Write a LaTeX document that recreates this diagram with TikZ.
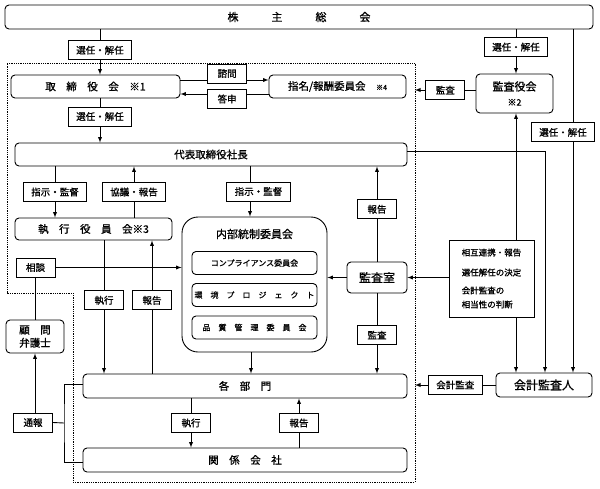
\documentclass[tikz,border=0pt]{standalone}
\usepackage{fontspec}
\setmainfont{Noto Sans CJK JP}[FakeBold=1]
\usetikzlibrary{
  positioning,
  arrows
}
\tikzset{
  >=latex,
  box/.style={draw, line width=0.9pt, rounded corners=4pt, fill=white, inner sep=0pt, font=\fontsize{10.5}{12}\selectfont},
  subbox/.style={box, minimum width=125, minimum height=23, font=\fontsize{8}{9}\selectfont},
  lbl/.style={draw, line width=0.9pt, fill=white, inner xsep=8pt, inner ysep=0pt, minimum width=39, minimum height=19, font=\fontsize{9.5}{11}\selectfont},
  link/.style={line width=0.9pt},
  frame/.style={densely dotted, line width=0.8pt}
}

\begin{document}
\begin{tikzpicture}[x=1pt, y=-1pt]
    \useasboundingbox (0,0) rectangle (600,488);
    % company border
    \draw[frame] (7,63) -- (415,63) -- (415,482) -- (73,482) -- (73,293) -- (7,293) -- cycle;
    \coordinate (edgeA) at (415,90);
    \coordinate (edgeB) at (415,385);
    \coordinate (fork) at (64,423);

    \node[box, minimum width=588, minimum height=24, font=\fontsize{11}{13}\selectfont] (kabu) at (299,17) {株　　　主　　　総　　　会};
    \node[box, minimum width=169, minimum height=23] (tori) at (95.5,86.5) {取　締　役　会　※1};
    \node[box, minimum width=137, minimum height=23] (shimei) at (337.5,86.5) {指名/報酬委員会　{\fontsize{7}{8}\selectfont ※4}};
    \node[box, minimum width=77, minimum height=39, align=center, font=\fontsize{11}{15}\selectfont] (kansayaku) at (514.5,93.5) {監査役会\\{\fontsize{9}{10}\selectfont ※2}};
    \node[box, minimum width=392, minimum height=23] (daihyo) at (211,154.5) {代表取締役社長};
    \node[box, minimum width=157, minimum height=22] (shikko) at (93.5,229) {執　行　役　員　会※3};
    \node[box, rounded corners=16pt, minimum width=145, minimum height=135] (naibu) at (254.5,284.5) {};
    \node[font=\fontsize{11}{13}\selectfont] (naibuT) at (254.5,234) {内部統制委員会};
    \node[subbox] (comp) at (254.5,263) {コンプライアンス委員会};
    \node[subbox] (kankyo) at (254.5,295) {環　境　プ　ロ　ジ　ェ　ク　ト};
    \node[subbox] (hinshitsu) at (254.5,327.5) {品　質　管　理　委　員　会};
    \node[box, minimum width=60, minimum height=31, font=\fontsize{12}{14}\selectfont] (kansashitsu) at (377,277.5) {監査室};
    \node[lbl] (soudan) at (35.5,267.5) {相談};
    \node[box, minimum width=58, minimum height=33, align=center, font=\fontsize{10.5}{13}\selectfont] (komon) at (35,336.5) {顧　問\\弁護士};
    \node[box, minimum width=324, minimum height=24] (kakubu) at (245,386) {各　部　門};
    \node[box, minimum width=324, minimum height=24] (kankei) at (245,460) {関　係　会　社};
    \node[lbl] (tsuho) at (33,422.5) {通報};
    \node[box, minimum width=96, minimum height=24, font=\fontsize{12}{14}\selectfont] (kaikei) at (544,385) {会計監査人};

    \draw[link, <->] (kansayaku.south -| 516,0) -- (kaikei.north -| 516,0);
    \node[draw, line width=0.9pt, fill=white, minimum width=85, minimum height=77, inner xsep=8pt, align=left, font=\fontsize{8.5}{14}\selectfont] (sogo) at (491.5,278.5) {相互連携・報告\\[6pt]選任解任の決定\\[4pt]会計監査の\\相当性の判断};

    \draw[link, ->] (kabu.south -| 100,0) -- node[lbl, pos=0.46] {選任・解任} (tori.north -| 100,0);
    \draw[link, ->] (tori.east |- 0,80) -- node[lbl, pos=0.53, yshift=6.5pt] {諮問} (shimei.west |- 0,80);
    \draw[link, ->] (shimei.west |- 0,94) -- node[lbl, pos=0.47, yshift=-5pt] {答申} (tori.east |- 0,94);
    \draw[link, ->] (kansayaku.west |- edgeA) -- node[lbl] {監査} (edgeA);
    \draw[link, ->] (kabu.south -| 516,0) -- node[lbl, pos=0.4] {選任・解任} (kansayaku.north -| 516,0);
    \draw[link, ->] (kabu.south -| 573,0) -- node[lbl, pos=0.3, xshift=-10pt] {選任・解任} (kaikei.north -| 573,0);
    \draw[link, ->] (tori.south -| 100,0) -- node[lbl, pos=0.41] {選任・解任} (daihyo.north -| 100,0);
    \draw[link, ->] (daihyo.east |- 0,151) -| (kaikei.north -| 545,0);
    \draw[link, ->] (daihyo.south -| 55,0) -- node[lbl] {指示・監督} (shikko.north -| 55,0);
    \draw[link, ->] (shikko.north -| 134,0) -- node[lbl] {協議・報告} (daihyo.south -| 134,0);
    \draw[link, ->] (daihyo.south -| 250,0) -- node[lbl, xshift=8.5pt] {指示・監督} (naibu.north -| 250,0);
    \draw[link, ->] (kansashitsu.north) -- node[lbl, pos=0.55] {報告} (daihyo.south -| kansashitsu.north);
    \draw[link, ->] (kansashitsu.west) -- (naibu.east |- kansashitsu.west);
    \draw[link, ->] (sogo.west |- kansashitsu.east) -- (kansashitsu.east);
    \draw[link, ->] (kansashitsu.south) -- node[lbl, pos=0.52] {監査} (kakubu.north -| kansashitsu.south);
    \draw[link, ->] (naibu.south -| 251,0) -- (kakubu.north -| 251,0);
    \draw[link, ->] (soudan.east) -- (naibu.west |- soudan.east);
    \draw[link] (soudan.south -| komon.north) -- (komon.north);
    \draw[link, ->] (shikko.south -| 104,0) -- node[lbl, pos=0.45] {執行} (kakubu.north -| 104,0);
    \draw[link, ->] (kakubu.north -| 152,0) -- node[lbl, pos=0.55] {報告} (shikko.south -| 152,0);
    \draw[link, ->] (kakubu.south -| 191,0) -- node[lbl] {執行} (kankei.north -| 191,0);
    \draw[link, ->] (kankei.north -| 299,0) -- node[lbl] {報告} (kakubu.south -| 299,0);
    \draw[link] (kakubu.west |- 0,384) -| (fork) |- (kankei.west |- 0,462);
    \draw[link] (tsuho.east) -- (fork);
    \draw[link, ->] (tsuho.north -| komon.south) -- (komon.south);
    \draw[link, ->] (kaikei.west) -- node[lbl] {会計監査} (edgeB);
\end{tikzpicture}
\end{document}
